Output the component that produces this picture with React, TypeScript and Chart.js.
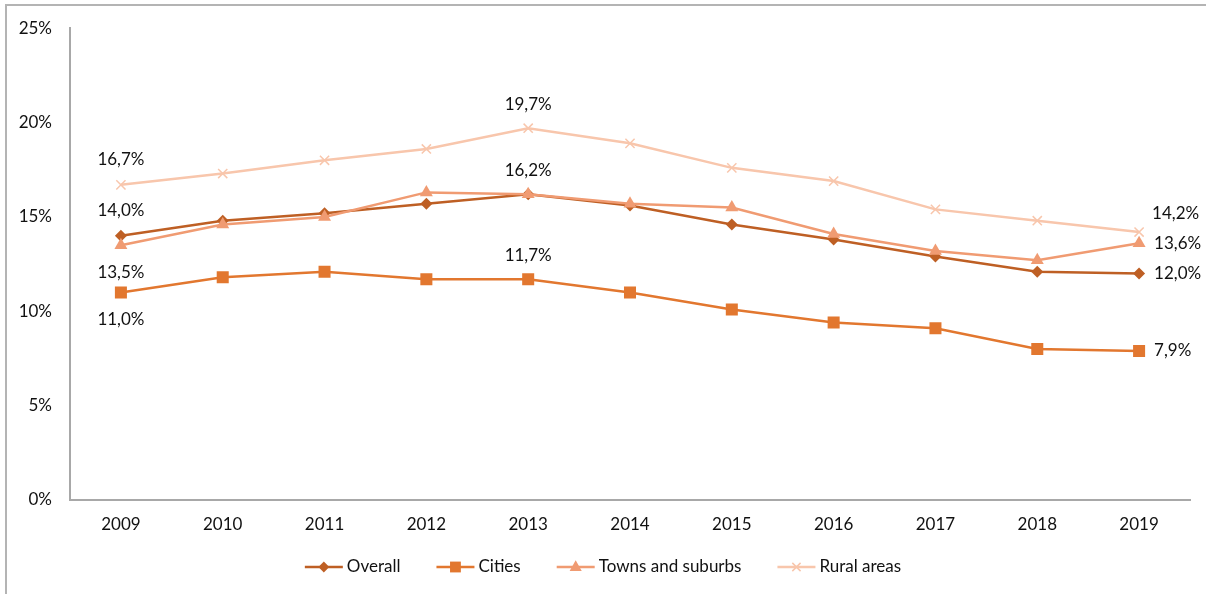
import React, { useEffect, useRef } from "react";
import { Chart, registerables } from "chart.js";

Chart.register(...registerables);

const years = ["2009", "2010", "2011", "2012", "2013", "2014", "2015", "2016", "2017", "2018", "2019"];
const overall = [14.0, 14.8, 15.2, 15.7, 16.2, 15.6, 14.6, 13.8, 12.9, 12.1, 12.0];
const cities = [11.0, 11.8, 12.1, 11.7, 11.7, 11.0, 10.1, 9.4, 9.1, 8.0, 7.9];
const towns = [13.5, 14.6, 15.0, 16.3, 16.2, 15.7, 15.5, 14.1, 13.2, 12.7, 13.6];
const rural = [16.7, 17.3, 18.0, 18.6, 19.7, 18.9, 17.6, 16.9, 15.4, 14.8, 14.2];
const seriesNames = ["Overall", "Cities", "Towns and suburbs", "Rural areas"];
const yTicks = [0, 5, 10, 15, 20, 25];

const FONT = "Lato, 'Open Sans', sans-serif";
const FS = 17;
const TEXT = "#111111";

// which points get a value label: [datasetIndex, pointIndex, dx, dy, align]
const labelSpecs: [number, number, number, number, CanvasTextAlign][] = [
  [3, 0, 0, -25, "center"],
  [0, 0, 0, -25, "center"],
  [2, 0, 0, 27, "center"],
  [1, 0, 0, 27, "center"],
  [3, 4, 0, -24, "center"],
  [0, 4, 0, -24, "center"],
  [1, 4, 0, -24, "center"],
  [3, 10, 13, -19, "left"],
  [2, 10, 15, 0, "left"],
  [0, 10, 15, 0, "left"],
  [1, 10, 15, 0, "left"],
];

const fmt = (v: number) => v.toFixed(1).replace(".", ",") + "%";

function drawMarker(ctx: CanvasRenderingContext2D, style: string, x: number, y: number, r: number, color: string) {
  ctx.save();
  ctx.fillStyle = color;
  ctx.strokeStyle = color;
  ctx.beginPath();
  if (style === "rectRot") {
    ctx.moveTo(x, y - r);
    ctx.lineTo(x + r, y);
    ctx.lineTo(x, y + r);
    ctx.lineTo(x - r, y);
    ctx.closePath();
    ctx.fill();
  } else if (style === "rect") {
    const s = r * Math.SQRT1_2;
    ctx.rect(x - s, y - s, 2 * s, 2 * s);
    ctx.fill();
  } else if (style === "triangle") {
    ctx.moveTo(x, y - r);
    ctx.lineTo(x + r * 0.9, y + r * 0.6);
    ctx.lineTo(x - r * 0.9, y + r * 0.6);
    ctx.closePath();
    ctx.fill();
  } else {
    const s = r * Math.SQRT1_2;
    ctx.lineWidth = 1.5;
    ctx.moveTo(x - s, y - s);
    ctx.lineTo(x + s, y + s);
    ctx.moveTo(x + s, y - s);
    ctx.lineTo(x - s, y + s);
    ctx.stroke();
  }
  ctx.restore();
}

const valueLabels = {
  id: "valueLabels",
  afterDatasetsDraw(chart: any) {
    const ctx = chart.ctx;
    ctx.save();
    ctx.font = `${FS}px ${FONT}`;
    ctx.fillStyle = TEXT;
    ctx.textBaseline = "middle";
    labelSpecs.forEach(([ds, idx, dx, dy, align]) => {
      const pt = chart.getDatasetMeta(ds).data[idx];
      const v = chart.data.datasets[ds].data[idx];
      ctx.textAlign = align;
      ctx.fillText(fmt(v), pt.x + dx, pt.y + dy);
    });
    ctx.restore();
  },
};

const lineLegend = {
  id: "lineLegend",
  afterDraw(chart: any) {
    const ctx = chart.ctx;
    const dsets = chart.data.datasets;
    ctx.save();
    ctx.font = `${FS}px ${FONT}`;
    const lineLen = 38;
    const textGap = 4;
    const itemGap = 36;
    const widths = dsets.map((d: any) => lineLen + textGap + ctx.measureText(d.label).width);
    const total = widths.reduce((a: number, b: number) => a + b, 0) + itemGap * (dsets.length - 1);
    let x = (chart.width - total) / 2;
    const y = 567;
    dsets.forEach((d: any, i: number) => {
      ctx.strokeStyle = d.borderColor;
      ctx.lineWidth = 2.5;
      ctx.beginPath();
      ctx.moveTo(x, y);
      ctx.lineTo(x + lineLen, y);
      ctx.stroke();
      drawMarker(ctx, d.pointStyle, x + lineLen / 2, y, d.pointRadius * 0.9, d.pointBackgroundColor);
      ctx.fillStyle = TEXT;
      ctx.textAlign = "left";
      ctx.textBaseline = "middle";
      ctx.fillText(d.label, x + lineLen + textGap, y);
      x += widths[i] + itemGap;
    });
    ctx.restore();
  },
};

export default function App() {
  const ref = useRef<HTMLCanvasElement>(null);
  useEffect(() => {
    if (!ref.current) return;
    const colors = ["#BE5F24", "#E2772F", "#F09B72", "#F8C6AC"];
    const styles = ["rectRot", "rect", "triangle", "crossRot"];
    const radii = [6, 8.5, 7.5, 6.5];
    const data = [overall, cities, towns, rural];
    const chart = new Chart(ref.current, {
      type: "line",
      data: {
        labels: years,
        datasets: data.map((d, i) => ({
          label: seriesNames[i],
          data: d,
          borderColor: colors[i],
          backgroundColor: colors[i],
          pointBackgroundColor: colors[i],
          pointBorderColor: colors[i],
          pointStyle: styles[i],
          pointRadius: radii[i],
          pointBorderWidth: i === 3 ? 1.5 : 0,
          borderWidth: 2.5,
          tension: 0,
          order: 4 - i,
        })),
      },
      options: {
        responsive: false,
        animation: false,
        layout: { padding: { top: 26, right: 16, left: 0, bottom: 0 } },
        plugins: {
          legend: { display: false },
          tooltip: { enabled: false },
        },
        scales: {
          x: {
            offset: true,
            grid: { display: false, drawTicks: false },
            border: { display: true, color: "#A8A8A8", width: 2 },
            ticks: { color: TEXT, font: { family: FONT, size: FS }, padding: 14, maxRotation: 0 },
            afterFit: (s: any) => {
              s.height = 94;
            },
          },
          y: {
            min: 0,
            max: 25,
            afterBuildTicks: (s: any) => {
              s.ticks = yTicks.map((v) => ({ value: v }));
            },
            grid: { display: false, drawTicks: false },
            border: { display: true, color: "#A8A8A8", width: 2 },
            ticks: {
              color: TEXT,
              font: { family: FONT, size: FS },
              padding: 18,
              callback: (v: any) => v + "%",
            },
            afterFit: (s: any) => {
              s.width = 70;
            },
          },
        },
      },
      plugins: [valueLabels, lineLegend],
    });
    return () => chart.destroy();
  }, []);

  return (
    <div style={{ position: "fixed", left: 0, top: 0, width: 1206, height: 594, overflow: "hidden", background: "#fff" }}>
      <div
        style={{
          position: "absolute",
          left: 5,
          top: 4,
          width: 1220,
          height: 620,
          border: "2px solid #B4B4B4",
          boxSizing: "border-box",
        }}
      />
      <canvas ref={ref} width={1206} height={594} style={{ position: "absolute", left: 0, top: 0 }} />
    </div>
  );
}
